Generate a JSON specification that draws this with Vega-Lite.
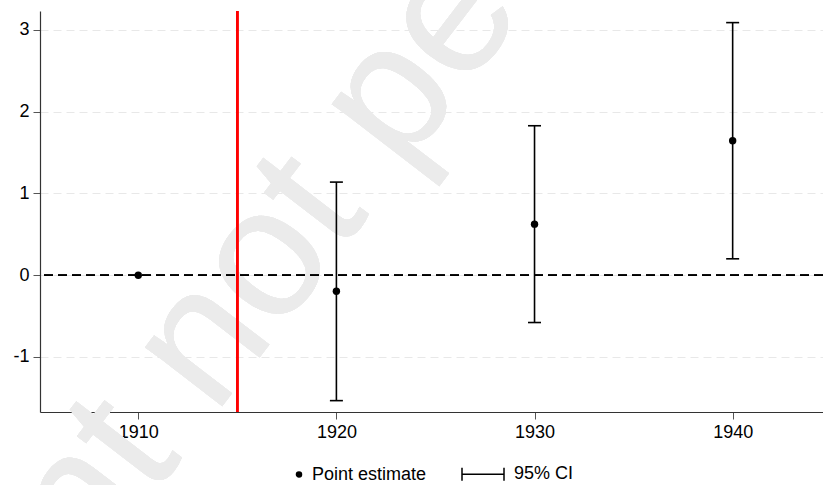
{
  "$schema": "https://vega.github.io/schema/vega-lite/v6.json",
  "width": 783,
  "height": 401,
  "autosize": {"type": "none"},
  "padding": {"left": 40, "top": 11, "right": 0, "bottom": 73},
  "background": "white",
  "config": {
    "view": {"stroke": null},
    "font": "Liberation Sans",
    "legend": {"layout": {"bottom": {"anchor": "middle"}}}
  },
  "data": {
    "values": [
      {"year": 1910, "est": 0, "lo": null, "hi": null, "series": "Point estimate"},
      {"year": 1920, "est": -0.196, "lo": -1.534, "hi": 1.138, "series": "Point estimate"},
      {"year": 1930, "est": 0.624, "lo": -0.579, "hi": 1.827, "series": "Point estimate"},
      {"year": 1940, "est": 1.644, "lo": 0.2, "hi": 3.088, "series": "Point estimate"}
    ]
  },
  "layer": [
    {
      "mark": {"type": "text", "text": "Preprint not peer reviewed", "angle": -52.5, "fontSize": 184, "color": "#ebebeb", "align": "center", "baseline": "alphabetic", "font": "Liberation Sans"},
      "encoding": {
        "x": {"datum": 1925.64, "type": "quantitative"},
        "y": {"datum": 1.995, "type": "quantitative"}
      }
    },
    {
      "mark": {"type": "rule", "color": "black", "strokeWidth": 1.5, "strokeDash": [9, 5]},
      "encoding": {"y": {"datum": 0, "type": "quantitative"}}
    },
    {
      "mark": {"type": "rule", "color": "#ff0000", "strokeWidth": 2.2},
      "encoding": {"x": {"datum": 1915, "type": "quantitative"}}
    },
    {
      "mark": {"type": "rule", "color": "black", "strokeWidth": 1.6},
      "encoding": {
        "x": {"field": "year", "type": "quantitative"},
        "y": {"field": "lo", "type": "quantitative"},
        "y2": {"field": "hi"}
      }
    },
    {
      "mark": {"type": "tick", "color": "black", "orient": "horizontal", "size": 13, "thickness": 1.6, "opacity": 1},
      "encoding": {
        "x": {"field": "year", "type": "quantitative"},
        "y": {"field": "lo", "type": "quantitative"}
      }
    },
    {
      "mark": {"type": "tick", "color": "black", "orient": "horizontal", "size": 13, "thickness": 1.6, "opacity": 1},
      "encoding": {
        "x": {"field": "year", "type": "quantitative"},
        "y": {"field": "hi", "type": "quantitative"}
      }
    },
    {
      "mark": {"type": "point", "filled": true, "size": 55, "color": "black", "opacity": 1},
      "encoding": {
        "x": {
          "field": "year",
          "type": "quantitative",
          "scale": {"domain": [1905.04, 1944.56], "nice": false, "zero": false},
          "axis": {
            "title": null,
            "values": [1910, 1920, 1930, 1940],
            "format": "d",
            "grid": false,
            "labelFontSize": 18,
            "labelColor": "black",
            "labelPadding": 4,
            "tickSize": 7,
            "tickColor": "#555555",
            "domainColor": "#333333",
            "domainWidth": 1.2
          }
        },
        "y": {
          "field": "est",
          "type": "quantitative",
          "scale": {"domain": [-1.673, 3.23], "nice": false, "zero": false},
          "axis": {
            "title": null,
            "values": [-1, 0, 1, 2, 3],
            "labelExpr": "'' + datum.value",
            "grid": true,
            "gridColor": "#e8e8e8",
            "gridDash": [8, 5],
            "gridWidth": 1,
            "labelFontSize": 18,
            "labelColor": "black",
            "labelPadding": 4,
            "tickSize": 7,
            "tickColor": "#555555",
            "domainColor": "#333333",
            "domainWidth": 1.2
          }
        }
      }
    },
    {
      "transform": [{"filter": "false"}],
      "mark": {"type": "point", "filled": false, "color": "black", "strokeWidth": 1.5},
      "encoding": {
        "x": {"field": "year", "type": "quantitative"},
        "y": {"field": "est", "type": "quantitative"},
        "shape": {
          "field": "series",
          "type": "nominal",
          "scale": {
            "domain": ["Point estimate", "95% CI"],
            "range": [
              "M0.977,0A0.12,0.12 0 1,1 0.737,0A0.12,0.12 0 1,1 0.977,0M0.932,0A0.075,0.075 0 1,1 0.782,0A0.075,0.075 0 1,1 0.932,0M0.887,0A0.03,0.03 0 1,1 0.827,0A0.03,0.03 0 1,1 0.887,0",
              "M-1,-0.31V0.31M-1,0H1M1,-0.31V0.31M5.62,0"
            ]
          },
          "legend": {
            "title": null,
            "orient": "bottom",
            "direction": "horizontal",
            "labelFontSize": 18,
            "labelColor": "black",
            "labelOffset": 9,
            "columnPadding": 32,
            "offset": 11,
            "symbolSize": 1764,
            "symbolStrokeColor": "black",
            "symbolFillColor": "transparent",
            "symbolStrokeWidth": 1.5,
            "symbolOpacity": 1
          }
        }
      }
    }
  ]
}
